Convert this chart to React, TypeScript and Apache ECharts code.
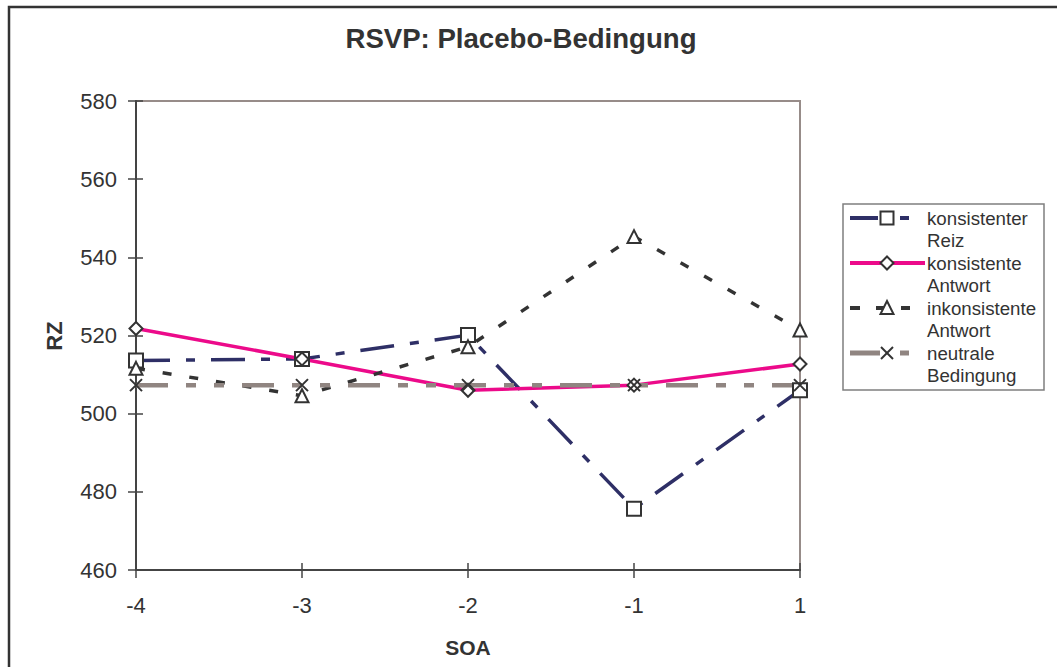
import React, { useEffect, useRef } from "react";
import * as echarts from "echarts";

// ---- data ----
const categories = ["-4", "-3", "-2", "-1", "1"];
const konsistenterReiz = [513.6, 514.0, 520.1, 475.7, 506.0];
const konsistenteAntwort = [521.8, 514.0, 506.0, 507.3, 512.7];
const inkonsistenteAntwort = [511.6, 504.6, 517.1, 545.3, 521.4];
const neutraleBedingung = [507.3, 507.3, 507.3, 507.3, 507.3];
const yTicks = { min: 460, max: 580, interval: 20 };

const titleText = "RSVP: Placebo-Bedingung";
const xName = "SOA";
const yName = "RZ";

const seriesNames = [
  "konsistenter Reiz",
  "konsistente Antwort",
  "inkonsistente Antwort",
  "neutrale Bedingung",
];
const legendLines = [
  ["konsistenter", "Reiz"],
  ["konsistente", "Antwort"],
  ["inkonsistente", "Antwort"],
  ["neutrale", "Bedingung"],
];

const FONT = "'Liberation Sans', Arial, Helvetica, sans-serif";
const X_PATH = "path://M0,0L10,10M10,0L0,10";

const styles = [
  { color: "#2e2f66", width: 3.5, dash: [34, 16, 9, 16], symbol: "rect", size: 14 },
  { color: "#ec0a8a", width: 3.5, dash: "solid", symbol: "diamond", size: 13 },
  { color: "#333333", width: 3.5, dash: [9, 18], symbol: "triangle", size: 13 },
  { color: "#908581", width: 4.5, dash: [32, 18, 10, 18, 10, 18], symbol: X_PATH, size: 12 },
];
const seriesData = [konsistenterReiz, konsistenteAntwort, inkonsistenteAntwort, neutraleBedingung];

function buildLegend() {
  const els: any[] = [];
  els.push({
    type: "rect",
    shape: { x: 843, y: 204, width: 201, height: 186 },
    style: { fill: "#fff", stroke: "#7f7f7f", lineWidth: 1.5 },
  });
  const rowY = [218, 263, 308, 353];
  const segs = [
    [[850, 878], [900, 909]],
    [[850, 925]],
    [[850, 860], [876, 884], [901, 910]],
    [[850, 880], [900, 909]],
  ];
  const mx = 887;
  for (let i = 0; i < 4; i++) {
    const y = rowY[i];
    const st = styles[i];
    for (const [a, b] of segs[i]) {
      els.push({
        type: "line",
        shape: { x1: a, y1: y, x2: b, y2: y },
        style: { stroke: st.color, lineWidth: st.width + 0.5 },
      });
    }
    const ms = { fill: "#fff", stroke: "#333", lineWidth: 2 };
    if (i === 0) {
      els.push({ type: "rect", shape: { x: mx - 6.5, y: y - 6.5, width: 13, height: 13 }, style: ms });
    } else if (i === 1) {
      els.push({
        type: "polygon",
        shape: { points: [[mx, y - 6.5], [mx + 6.5, y], [mx, y + 6.5], [mx - 6.5, y]] },
        style: ms,
      });
    } else if (i === 2) {
      els.push({
        type: "polygon",
        shape: { points: [[mx, y - 7], [mx + 6.5, y + 6], [mx - 6.5, y + 6]] },
        style: ms,
      });
    } else {
      els.push({ type: "line", shape: { x1: mx - 6, y1: y - 6, x2: mx + 6, y2: y + 6 }, style: { stroke: "#333", lineWidth: 2 } });
      els.push({ type: "line", shape: { x1: mx + 6, y1: y - 6, x2: mx - 6, y2: y + 6 }, style: { stroke: "#333", lineWidth: 2 } });
    }
    legendLines[i].forEach((t, j) => {
      els.push({
        type: "text",
        x: 927,
        y: y + j * 22.7,
        style: {
          text: t,
          font: `18.7px ${FONT}`,
          fill: "#333",
          verticalAlign: "middle",
          align: "left",
        },
      });
    });
  }
  return els;
}

export default function App() {
  const ref = useRef<HTMLDivElement>(null);
  useEffect(() => {
    if (!ref.current) return;
    const chart = echarts.init(ref.current, null, { renderer: "svg" });
    const axisColor = "#444";
    const option: any = {
      animation: false,
      backgroundColor: "#fff",
      textStyle: { fontFamily: FONT },
      grid: {
        left: 136,
        top: 101,
        width: 664,
        height: 469,
        show: true,
        borderColor: "#978c89",
        borderWidth: 2,
      },
      xAxis: [
        {
          type: "category",
          data: categories,
          boundaryGap: false,
          position: "bottom",
          axisLine: { lineStyle: { color: axisColor, width: 2 } },
          axisTick: { show: true, length: 8, lineStyle: { color: axisColor, width: 1.5 } },
          axisLabel: { color: "#333", fontSize: 22, margin: 24, fontFamily: FONT },
          splitLine: { show: false },
        },
        {
          type: "category",
          data: categories,
          boundaryGap: false,
          position: "bottom",
          axisLine: { show: false },
          axisTick: { show: true, inside: true, length: 7, lineStyle: { color: axisColor, width: 1.5 } },
          axisLabel: { show: false },
          splitLine: { show: false },
        },
      ],
      yAxis: [
        {
          type: "value",
          min: yTicks.min,
          max: yTicks.max,
          interval: yTicks.interval,
          position: "left",
          axisLine: { show: true, lineStyle: { color: axisColor, width: 2 } },
          axisTick: { show: true, length: 8, lineStyle: { color: axisColor, width: 1.5 } },
          axisLabel: { color: "#333", fontSize: 22, margin: 19, fontFamily: FONT },
          splitLine: { show: false },
        },
        {
          type: "value",
          min: yTicks.min,
          max: yTicks.max,
          interval: yTicks.interval,
          position: "left",
          axisLine: { show: false },
          axisTick: { show: true, inside: true, length: 7, lineStyle: { color: axisColor, width: 1.5 } },
          axisLabel: { show: false },
          splitLine: { show: false },
        },
      ],
      series: seriesData.map((d, i) => ({
        type: "line",
        name: seriesNames[i],
        data: d,
        xAxisIndex: 0,
        yAxisIndex: 0,
        symbol: styles[i].symbol,
        symbolSize: styles[i].size,
        showAllSymbol: true,
        lineStyle: { color: styles[i].color, width: styles[i].width, type: styles[i].dash },
        itemStyle: { color: "#fff", borderColor: "#333", borderWidth: 2 },
        emphasis: { disabled: true },
      })),
      graphic: [
        {
          type: "rect",
          shape: { x: 9, y: 7, width: 1200, height: 800 },
          style: { fill: "none", stroke: "#333", lineWidth: 2.5 },
          silent: true,
        },
        {
          type: "text",
          x: 521,
          y: 38,
          style: {
            text: titleText,
            font: `bold 27.6px ${FONT}`,
            fill: "#333",
            align: "center",
            verticalAlign: "middle",
          },
        },
        {
          type: "text",
          x: 468,
          y: 647,
          style: {
            text: xName,
            font: `bold 21px ${FONT}`,
            fill: "#333",
            align: "center",
            verticalAlign: "middle",
          },
        },
        {
          type: "text",
          x: 54,
          y: 336,
          rotation: Math.PI / 2,
          style: {
            text: yName,
            font: `bold 22px ${FONT}`,
            fill: "#333",
            align: "center",
            verticalAlign: "middle",
          },
        },
        ...buildLegend(),
      ],
    };
    chart.setOption(option);
    return () => chart.dispose();
  }, []);
  return (
    <div
      ref={ref}
      style={{ position: "fixed", left: 0, top: 0, width: 1057, height: 667 }}
    />
  );
}
